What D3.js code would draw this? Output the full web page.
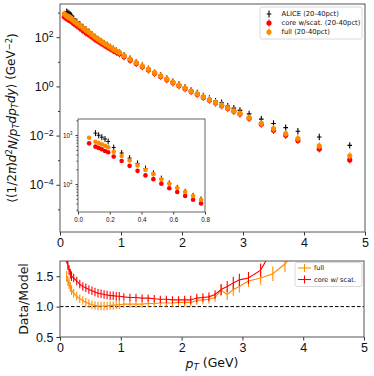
<!DOCTYPE html>
<html>
<head>
<meta charset="utf-8">
<script src="https://cdnjs.cloudflare.com/ajax/libs/d3/7.8.5/d3.min.js"></script>
<style>
  body { margin: 0; background: #fff; }
  svg { font-family: "DejaVu Sans", sans-serif; }
</style>
</head>
<body>
<div id="chart"></div>
<script>
// ---- values ----
// pT bin centres of the ALICE points (GeV)
var ptData = [0.11, 0.13, 0.15, 0.17, 0.19,
  0.225, 0.275, 0.325, 0.375, 0.425, 0.475, 0.525, 0.575, 0.625, 0.675, 0.725, 0.775, 0.825, 0.875, 0.925, 0.975,
  1.05, 1.15, 1.25, 1.35, 1.45, 1.55, 1.65, 1.75, 1.85, 1.95, 2.05, 2.15, 2.25, 2.35, 2.45, 2.55, 2.65, 2.75, 2.85, 2.95,
  3.1, 3.3, 3.5, 3.7, 3.9, 4.25, 4.75];

// model is evaluated on one extra low pT point
var ptModel = [0.07, 0.11, 0.13, 0.15, 0.17, 0.19,
  0.225, 0.275, 0.325, 0.375, 0.425, 0.475, 0.525, 0.575, 0.625, 0.675, 0.725, 0.775, 0.825, 0.875, 0.925, 0.975,
  1.05, 1.15, 1.25, 1.35, 1.45, 1.55, 1.65, 1.75, 1.85, 1.95, 2.05, 2.15, 2.25, 2.35, 2.45, 2.55, 2.65, 2.75, 2.85, 2.95,
  3.1, 3.3, 3.5, 3.7, 3.9, 4.25, 4.75];

var aliceVals = [1090, 990, 905, 830, 740,
  555, 430, 338, 264, 207, 166, 129, 103, 83.6, 69.4, 57.5, 48.4, 40.6, 33.8, 29.0, 24.7,
  18.5, 13.4, 9.70, 7.03, 5.26, 3.81, 2.85, 2.12, 1.57, 1.20, 0.911, 0.691, 0.539, 0.413, 0.323, 0.252, 0.216, 0.158, 0.131, 0.106,
  0.0763, 0.0465, 0.0310, 0.0210, 0.0150, 0.0088, 0.0040];

var coreVals = [676, 580, 546, 513, 473, 446,
  363, 295, 235, 186, 150, 126, 102, 82, 69, 57.3, 47.9, 40.3, 33.9, 28.5, 24.5, 21.1,
  15.9, 11.6, 8.51, 6.24, 4.68, 3.39, 2.52, 1.88, 1.40, 1.06, 0.81, 0.617, 0.469, 0.356, 0.275, 0.209, 0.162, 0.126, 0.0975, 0.0750,
  0.0501, 0.0292, 0.0163, 0.0102, 0.00631, 0.00288, 0.00102];

var fullVals = [881, 730, 687, 646, 603, 562,
  457, 372, 302, 240, 193, 158, 125, 101, 82.8, 68.7, 56.9, 47.9, 39.8, 33.1, 28.2, 24.0,
  17.8, 12.9, 9.33, 6.76, 5.01, 3.63, 2.69, 2.00, 1.48, 1.12, 0.851, 0.646, 0.490, 0.372, 0.288, 0.219, 0.170, 0.132, 0.102, 0.0794,
  0.0537, 0.0316, 0.0191, 0.0120, 0.00759, 0.00380, 0.00151];

// data / model ratios (bottom panel)
var ratioFull = [1.50, 1.42, 1.37, 1.32, 1.27,
  1.22, 1.17, 1.13, 1.10, 1.07, 1.05, 1.03, 1.02, 1.01, 1.01, 1.01, 1.01, 1.02, 1.02, 1.03, 1.03,
  1.04, 1.04, 1.04, 1.04, 1.05, 1.05, 1.06, 1.06, 1.06, 1.07, 1.07, 1.07, 1.10, 1.11, 1.12, 1.15, 1.27, 1.20, 1.28, 1.33,
  1.42, 1.47, 1.54, 1.70, 1.95, 2.30, 2.60];

var ratioCore = [1.80, 1.68, 1.60, 1.54, 1.50,
  1.47, 1.42, 1.37, 1.33, 1.31, 1.28, 1.26, 1.24, 1.22, 1.21, 1.20, 1.19, 1.18, 1.18, 1.17, 1.17,
  1.16, 1.15, 1.15, 1.14, 1.14, 1.13, 1.12, 1.12, 1.11, 1.11, 1.11, 1.11, 1.14, 1.15, 1.16, 1.20, 1.28, 1.33, 1.39, 1.44,
  1.47, 1.60, 1.95, 2.10, 2.40, 3.00, 3.90];

var ratioErr = [0.09, 0.08, 0.08, 0.08, 0.08,
  0.07, 0.07, 0.07, 0.07, 0.07, 0.07, 0.07, 0.07, 0.07, 0.07, 0.07, 0.07, 0.07, 0.07, 0.07, 0.07,
  0.06, 0.06, 0.06, 0.06, 0.06, 0.06, 0.06, 0.06, 0.06, 0.06, 0.07, 0.07, 0.07, 0.07, 0.07, 0.07, 0.09, 0.09, 0.10, 0.10,
  0.10, 0.11, 0.12, 0.13, 0.15, 0.20, 0.30];

// ticks
var xTicks = [0, 1, 2, 3, 4, 5];
var mainYTicks = [1e-4, 1e-2, 1e0, 1e2];
var mainYMinor = [1e-5, 1e-3, 1e-1, 1e1, 1e3];
var insetXTicks = [0.0, 0.2, 0.4, 0.6, 0.8];
var insetYTicks = [1e2, 1e3];
var insetYMinor = [30, 40, 50, 60, 70, 80, 90, 200, 300, 400, 500, 600, 700, 800, 900, 2000];
var ratioYTicks = [0.5, 1.0, 1.5];

var mainLegend = ["ALICE (20-40pct)", "core w/scat. (20-40pct)", "full (20-40pct)"];
var ratioLegend = ["full", "core w/ scat."];

var cOrange = "#ff8c00", cRed = "#ff0000";

function init(){

  var svg = d3.select("#chart")
    .append("svg")
      .attr("width", 374)
      .attr("height", 376);

  // little helper: 10^n labels with a superscript
  function powLabels(sel, supSize){
    sel.each(function(d){
      var e = Math.round(Math.log10(d));
      var t = d3.select(this);
      t.text(null);
      t.append("tspan").text("10");
      t.append("tspan").attr("dy", "-0.5em").style("font-size", supSize)
        .text(String(e).replace("-", "\u2212"));
    });
  }

  function styleAxis(g, fs){
    g.select(".domain").remove();
    g.selectAll(".tick line").attr("stroke", "#333");
    g.selectAll(".tick text").attr("fill", "#111").style("font-size", fs);
  }

  // ===================== main panel =====================
  var m = {l: 60, r: 365, t: 4, b: 232};
  var x = d3.scaleLinear().domain([0, 5]).range([m.l, m.r]);
  var y = d3.scaleLog().domain([Math.pow(10, -5.92), Math.pow(10, 3.35)]).range([m.b, m.t]);

  svg.append("clipPath").attr("id", "clipMain")
    .append("rect").attr("x", m.l).attr("y", m.t).attr("width", m.r - m.l).attr("height", m.b - m.t);

  // x axis
  var gx = svg.append("g")
    .attr("transform", "translate(0," + m.b + ")")
    .call(d3.axisBottom(x).tickValues(xTicks).tickSize(3.5).tickPadding(3).tickFormat(d3.format("d")));
  styleAxis(gx, "12.5px");

  // y axis (log)
  var gy = svg.append("g")
    .attr("transform", "translate(" + m.l + ",0)")
    .call(d3.axisLeft(y).tickValues(mainYTicks).tickSize(3.5).tickPadding(3));
  styleAxis(gy, "12.5px");
  powLabels(gy.selectAll(".tick text"), "0.7em");
  var gym = svg.append("g")
    .attr("transform", "translate(" + m.l + ",0)")
    .call(d3.axisLeft(y).tickValues(mainYMinor).tickSize(2).tickFormat(""));
  styleAxis(gym, "1px");

  // y label
  var yl = svg.append("text")
    .attr("transform", "translate(15.5," + ((m.t + m.b) / 2) + ") rotate(-90)")
    .attr("text-anchor", "middle")
    .style("font-size", "12px")
    .attr("fill", "#111");
  yl.append("tspan").text("\u27e8(1/2");
  yl.append("tspan").style("font-style", "italic").text("\u03c0");
  yl.append("tspan").text(")");
  yl.append("tspan").style("font-style", "italic").text("d");
  yl.append("tspan").attr("dy", "-0.4em").style("font-size", "0.7em").text("2");
  yl.append("tspan").attr("dy", "0.4em").style("font-style", "italic").text("N/p");
  yl.append("tspan").attr("dy", "0.25em").style("font-size", "0.7em").style("font-style", "italic").text("T");
  yl.append("tspan").attr("dy", "-0.25em").style("font-style", "italic").text("dp");
  yl.append("tspan").attr("dy", "0.25em").style("font-size", "0.7em").style("font-style", "italic").text("T");
  yl.append("tspan").attr("dy", "-0.25em").style("font-style", "italic").text("dy");
  yl.append("tspan").text("\u27e9 (GeV");
  yl.append("tspan").attr("dy", "-0.4em").style("font-size", "0.7em").text("\u22122");
  yl.append("tspan").attr("dy", "0.4em").text(")");

  var plot = svg.append("g").attr("clip-path", "url(#clipMain)");

  // ALICE points: black plus markers
  plot.selectAll("path.alice")
    .data(ptData)
    .enter().append("path")
      .attr("class", "alice")
      .attr("d", function(d, i){
        var px = x(d), py = y(aliceVals[i]);
        return "M" + (px - 2.3) + "," + py + "H" + (px + 2.3) + "M" + px + "," + (py - 3.2) + "V" + (py + 3.2);
      })
      .attr("stroke", "#000")
      .attr("stroke-width", 1.1);

  // model points, red then orange on top
  [[coreVals, cRed], [fullVals, cOrange]].forEach(function(s){
    var vals = s[0], col = s[1];
    plot.append("g").selectAll("line")
      .data(ptModel).enter().append("line")
        .attr("x1", function(d){ return x(d); })
        .attr("x2", function(d){ return x(d); })
        .attr("y1", function(d, i){ return y(vals[i]) - 3.6; })
        .attr("y2", function(d, i){ return y(vals[i]) + 3.6; })
        .attr("stroke", col).attr("stroke-width", 1);
    plot.append("g").selectAll("circle")
      .data(ptModel).enter().append("circle")
        .attr("cx", function(d){ return x(d); })
        .attr("cy", function(d, i){ return y(vals[i]); })
        .attr("r", 2.6)
        .attr("fill", col);
  });

  // frame
  svg.append("rect")
    .attr("x", m.l).attr("y", m.t).attr("width", m.r - m.l).attr("height", m.b - m.t)
    .attr("fill", "none").attr("stroke", "#555").attr("stroke-width", 1);

  // legend of the main panel
  var lg = svg.append("g");
  lg.append("rect")
    .attr("x", 260).attr("y", 7).attr("width", 102).attr("height", 32).attr("rx", 2)
    .attr("fill", "#fff").attr("stroke", "#d0d0d0").attr("stroke-width", 0.8);
  var legCols = ["#000", cRed, cOrange];
  mainLegend.forEach(function(lab, i){
    var ly = 14 + i * 9, lx = 269;
    if (i == 0) {
      lg.append("path")
        .attr("d", "M" + (lx - 2.3) + "," + ly + "H" + (lx + 2.3) + "M" + lx + "," + (ly - 3.5) + "V" + (ly + 3.5))
        .attr("stroke", "#000").attr("stroke-width", 1.1);
    } else {
      lg.append("line").attr("x1", lx).attr("x2", lx).attr("y1", ly - 3.6).attr("y2", ly + 3.6)
        .attr("stroke", legCols[i]).attr("stroke-width", 1);
      lg.append("circle").attr("cx", lx).attr("cy", ly).attr("r", 2.6).attr("fill", legCols[i]);
    }
    lg.append("text")
      .attr("x", 281.5).attr("y", ly)
      .attr("dy", "0.35em")
      .style("font-size", "6.8px")
      .attr("fill", "#111")
      .text(lab);
  });

  // ===================== inset =====================
  var n = {l: 78, r: 205, t: 119, b: 212};
  var xi = d3.scaleLinear().domain([0, 0.8]).range([n.l, n.r]);
  var yi = d3.scaleLog().domain([Math.pow(10, 1.43), Math.pow(10, 3.327)]).range([n.b, n.t]);

  svg.append("rect")
    .attr("x", n.l).attr("y", n.t).attr("width", n.r - n.l).attr("height", n.b - n.t)
    .attr("fill", "#fff");
  svg.append("clipPath").attr("id", "clipInset")
    .append("rect").attr("x", n.l).attr("y", n.t).attr("width", n.r - n.l).attr("height", n.b - n.t);

  var gxi = svg.append("g")
    .attr("transform", "translate(0," + n.b + ")")
    .call(d3.axisBottom(xi).tickValues(insetXTicks).tickSize(2.5).tickPadding(3).tickFormat(d3.format(".1f")));
  styleAxis(gxi, "6.3px");
  var gyi = svg.append("g")
    .attr("transform", "translate(" + n.l + ",0)")
    .call(d3.axisLeft(yi).tickValues(insetYTicks).tickSize(2.5).tickPadding(3));
  styleAxis(gyi, "6.3px");
  powLabels(gyi.selectAll(".tick text"), "0.7em");
  var gyim = svg.append("g")
    .attr("transform", "translate(" + n.l + ",0)")
    .call(d3.axisLeft(yi).tickValues(insetYMinor).tickSize(1.5).tickFormat(""));
  styleAxis(gyim, "1px");

  var ip = svg.append("g").attr("clip-path", "url(#clipInset)");
  ip.selectAll("path.alice")
    .data(ptData.filter(function(d){ return d < 0.8; }))
    .enter().append("path")
      .attr("d", function(d, i){
        var px = xi(d), py = yi(aliceVals[i]);
        return "M" + (px - 2) + "," + py + "H" + (px + 2) + "M" + px + "," + (py - 3) + "V" + (py + 3);
      })
      .attr("stroke", "#000")
      .attr("stroke-width", 1);
  [[coreVals, cRed], [fullVals, cOrange]].forEach(function(s){
    var vals = s[0], col = s[1];
    ip.append("g").selectAll("circle")
      .data(ptModel.filter(function(d){ return d < 0.8; })).enter().append("circle")
        .attr("cx", function(d){ return xi(d); })
        .attr("cy", function(d, i){ return yi(vals[i]); })
        .attr("r", 2.3)
        .attr("fill", col);
  });
  svg.append("rect")
    .attr("x", n.l).attr("y", n.t).attr("width", n.r - n.l).attr("height", n.b - n.t)
    .attr("fill", "none").attr("stroke", "#555").attr("stroke-width", 0.9);

  // ===================== ratio panel =====================
  var q = {l: 60, r: 364, t: 261, b: 337};
  var xr = d3.scaleLinear().domain([0, 5]).range([q.l, q.r]);
  var yr = d3.scaleLinear().domain([0.5, 1.75]).range([q.b, q.t]);

  svg.append("clipPath").attr("id", "clipRatio")
    .append("rect").attr("x", q.l).attr("y", q.t).attr("width", q.r - q.l).attr("height", q.b - q.t);

  var gxr = svg.append("g")
    .attr("transform", "translate(0," + q.b + ")")
    .call(d3.axisBottom(xr).tickValues(xTicks).tickSize(3.5).tickPadding(2.5).tickFormat(d3.format("d")));
  styleAxis(gxr, "12.5px");
  var gyr = svg.append("g")
    .attr("transform", "translate(" + q.l + ",0)")
    .call(d3.axisLeft(yr).tickValues(ratioYTicks).tickSize(3.5).tickPadding(3).tickFormat(d3.format(".1f")));
  styleAxis(gyr, "12.5px");

  var rp = svg.append("g").attr("clip-path", "url(#clipRatio)");
  rp.append("line")
    .attr("x1", q.l).attr("x2", q.r).attr("y1", yr(1)).attr("y2", yr(1))
    .attr("stroke", "#000").attr("stroke-width", 1).attr("stroke-dasharray", "3.5,2");

  [[ratioFull, cOrange], [ratioCore, cRed]].forEach(function(s){
    var vals = s[0], col = s[1];
    var line = d3.line()
      .x(function(d){ return xr(d); })
      .y(function(d, i){ return yr(vals[i]); });
    rp.append("path")
      .datum(ptData)
      .attr("d", line)
      .attr("fill", "none")
      .attr("stroke", col)
      .attr("stroke-width", 1.1);
    rp.append("g").selectAll("line")
      .data(ptData).enter().append("line")
        .attr("x1", function(d){ return xr(d); })
        .attr("x2", function(d){ return xr(d); })
        .attr("y1", function(d, i){ return yr(vals[i] - ratioErr[i]); })
        .attr("y2", function(d, i){ return yr(vals[i] + ratioErr[i]); })
        .attr("stroke", col)
        .attr("stroke-width", 1.1);
  });

  svg.append("rect")
    .attr("x", q.l).attr("y", q.t).attr("width", q.r - q.l).attr("height", q.b - q.t)
    .attr("fill", "none").attr("stroke", "#555").attr("stroke-width", 1);

  // ratio legend
  var rl = svg.append("g");
  rl.append("rect")
    .attr("x", 295).attr("y", 262.5).attr("width", 67).attr("height", 24).attr("rx", 2)
    .attr("fill", "#fff").attr("stroke", "#d0d0d0").attr("stroke-width", 0.8);
  [cOrange, cRed].forEach(function(col, i){
    var ly = 268 + i * 11.5;
    rl.append("line").attr("x1", 298).attr("x2", 311).attr("y1", ly).attr("y2", ly)
      .attr("stroke", col).attr("stroke-width", 1.1);
    rl.append("line").attr("x1", 304.5).attr("x2", 304.5).attr("y1", ly - 4).attr("y2", ly + 4)
      .attr("stroke", col).attr("stroke-width", 1.1);
    rl.append("text")
      .attr("x", 314).attr("y", ly).attr("dy", "0.35em")
      .style("font-size", "6.6px").attr("fill", "#111")
      .text(ratioLegend[i]);
  });

  // axis labels
  svg.append("text")
    .attr("transform", "translate(27.5," + ((q.t + q.b) / 2) + ") rotate(-90)")
    .attr("text-anchor", "middle")
    .style("font-size", "12.5px")
    .attr("fill", "#111")
    .text("Data/Model");

  var xl = svg.append("text")
    .attr("x", (q.l + q.r) / 2).attr("y", 368)
    .attr("text-anchor", "middle")
    .style("font-size", "12.5px")
    .attr("fill", "#111");
  xl.append("tspan").style("font-style", "italic").text("p");
  xl.append("tspan").attr("dy", "0.25em").style("font-size", "0.7em").style("font-style", "italic").text("T");
  xl.append("tspan").attr("dy", "-0.25em").text(" (GeV)");
}
window.onload = init;
</script>
</body>
</html>
